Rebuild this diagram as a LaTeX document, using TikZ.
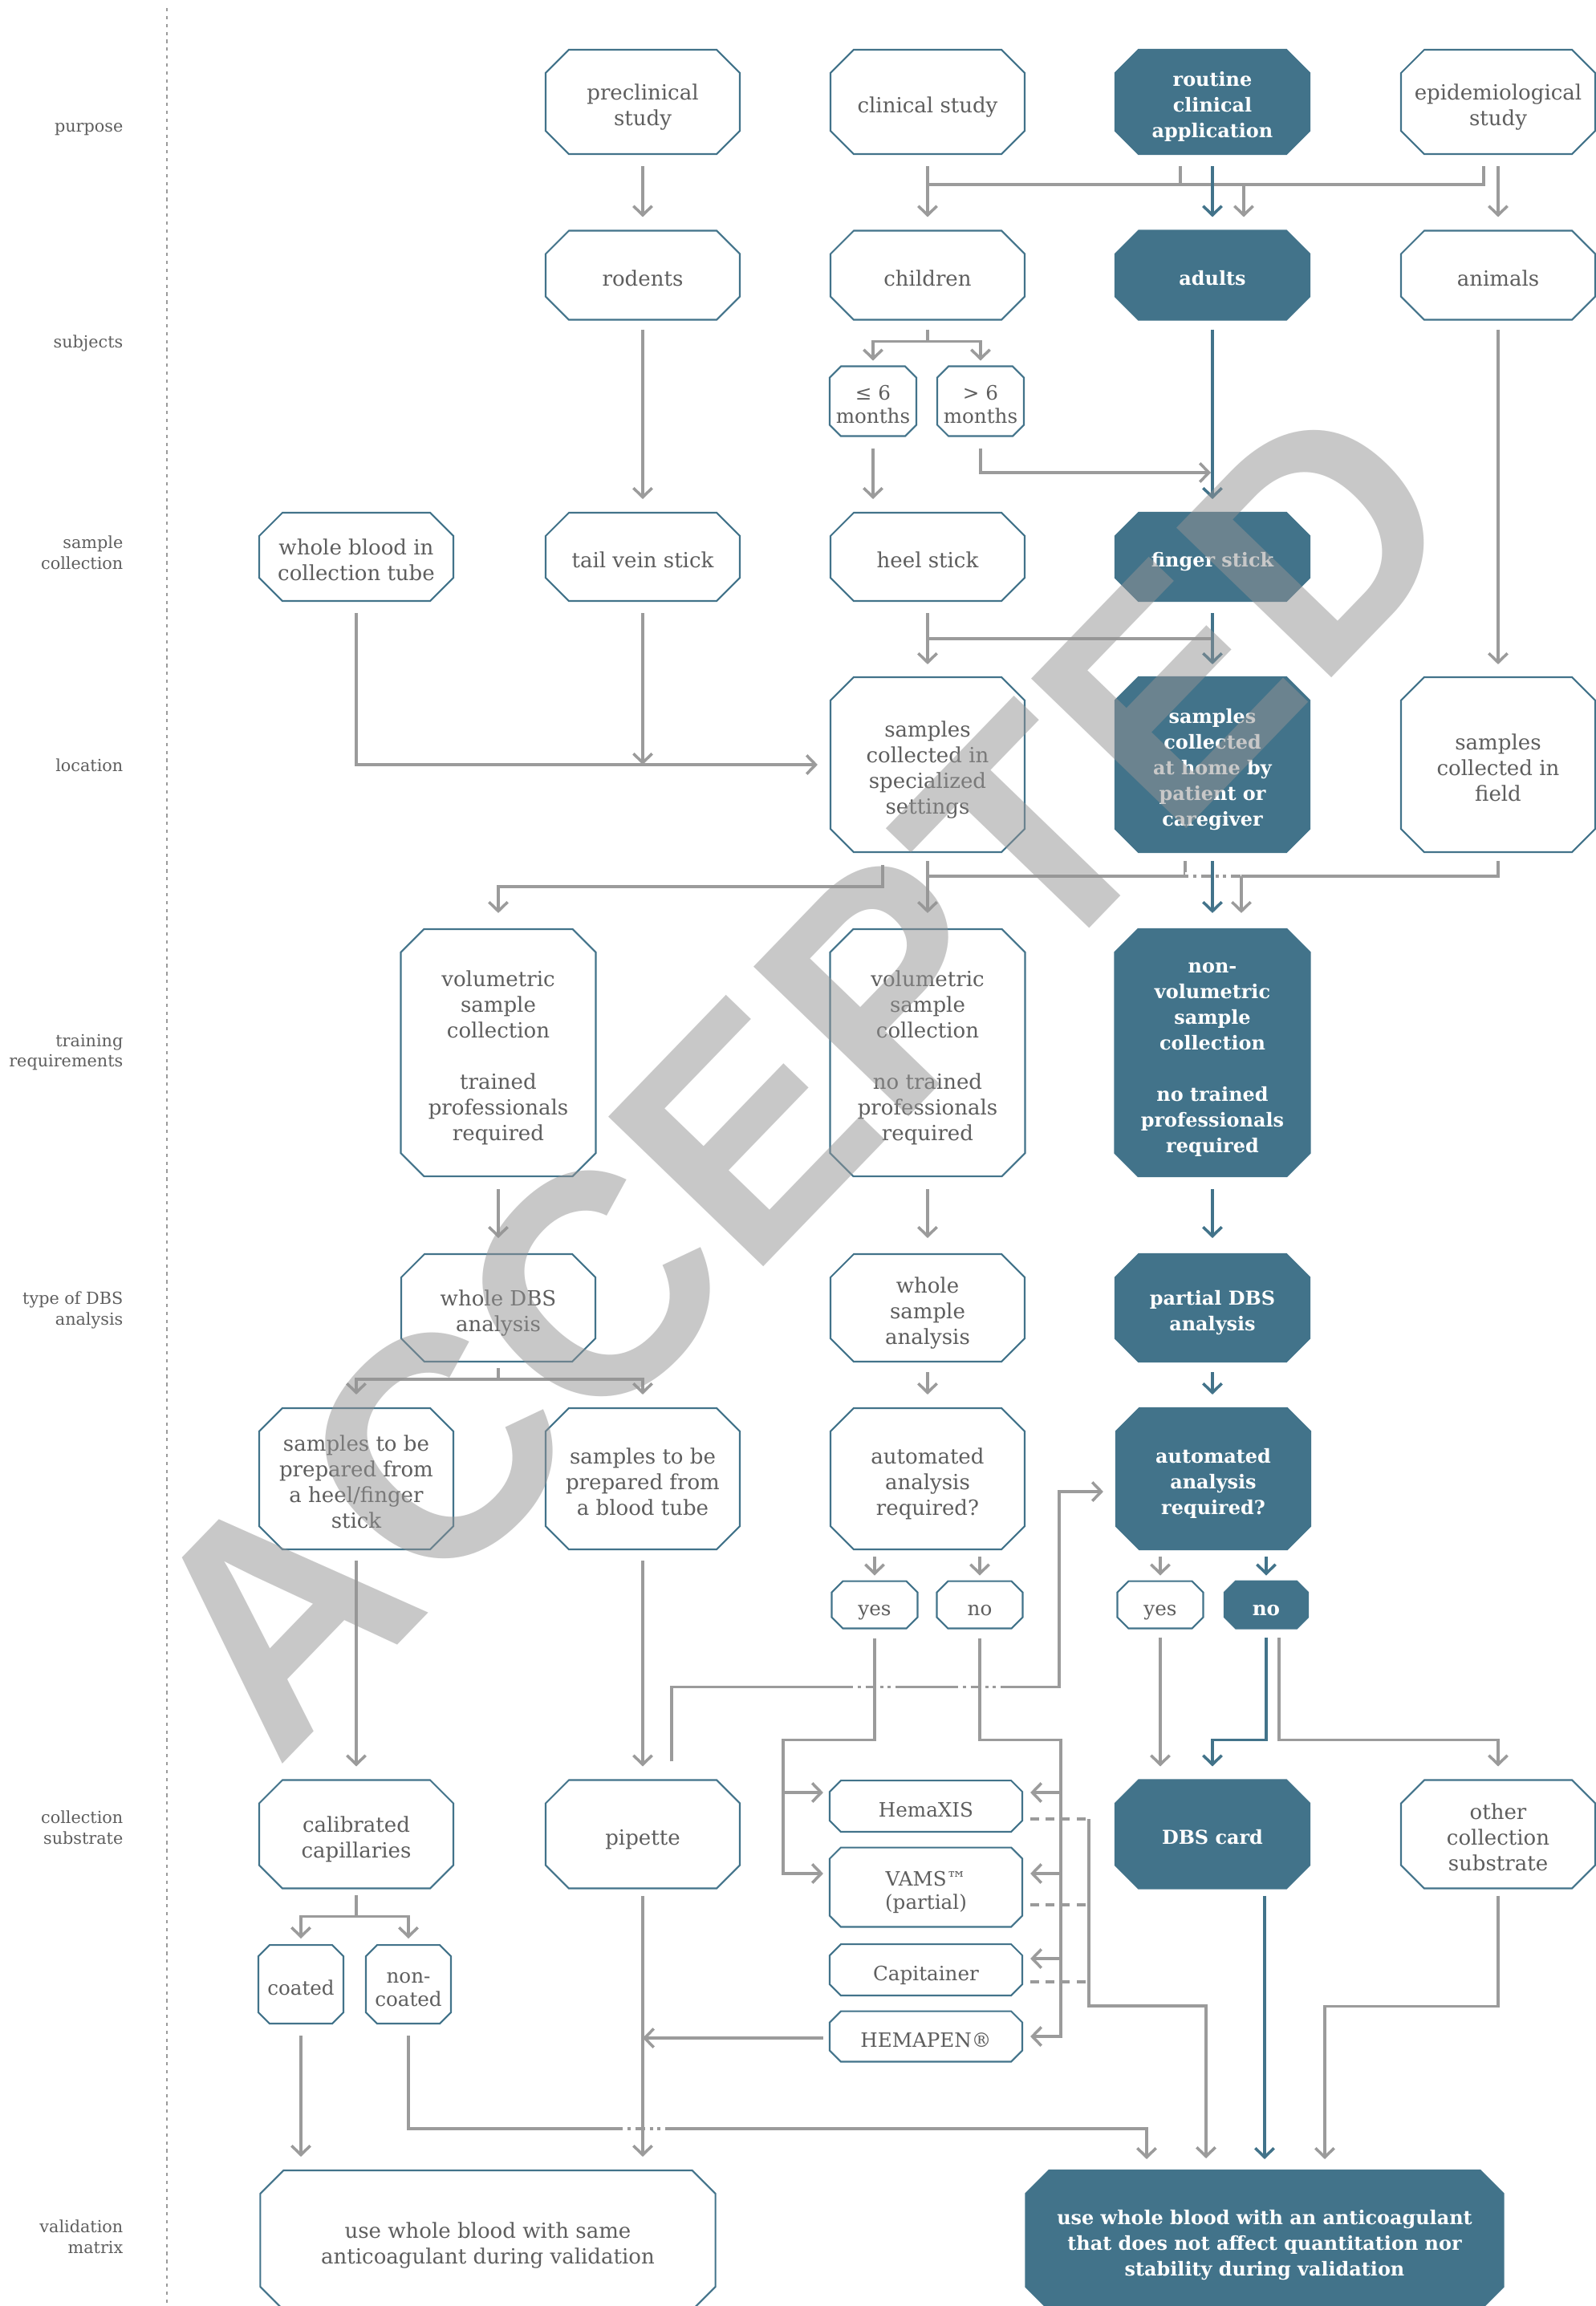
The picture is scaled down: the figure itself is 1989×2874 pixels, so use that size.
\documentclass[tikz,border=0pt]{standalone}
\usepackage{fontspec}
\setmainfont{DejaVu Serif}
\newfontfamily\wmfont{Liberation Sans}
\usetikzlibrary{arrows.meta,calc}

\definecolor{dbsteal}{HTML}{42738A}
\definecolor{lgray}{HTML}{9B9B9B}
\definecolor{txt}{HTML}{5E5E5E}
\definecolor{wmgray}{RGB}{148,148,148}

% octagon inside the node's rectangle, #1 = corner cut, #2 = path options
\newcommand\octo[2]{%
  \path[#2]
    ([xshift=#1,yshift=-0.3pt]path picture bounding box.north west)
    -- ([xshift=-#1,yshift=-0.3pt]path picture bounding box.north east)
    -- ([xshift=-0.3pt,yshift=-#1]path picture bounding box.north east)
    -- ([xshift=-0.3pt,yshift=#1]path picture bounding box.south east)
    -- ([xshift=-#1,yshift=0.3pt]path picture bounding box.south east)
    -- ([xshift=#1,yshift=0.3pt]path picture bounding box.south west)
    -- ([xshift=0.3pt,yshift=#1]path picture bounding box.south west)
    -- ([xshift=0.3pt,yshift=-#1]path picture bounding box.north west)
    -- cycle;}
% fixed line box so that texts sit alike in every box
\newcommand\lines[1]{\rule{0pt}{1.3em}#1\rule[-0.24em]{0pt}{0.24em}}
\newcommand\labstrut{\rule{0pt}{1.08em}}
\newcommand\botstrut{\rule[-0.24em]{0pt}{0.24em}}

\tikzset{
  oct/.style={rectangle, inner sep=0pt, outer sep=0pt, align=center,
    minimum width=2.44cm, text=txt, font=\fontsize{7.4}{9.1}\selectfont,
    path picture={\octo{0.3cm}{fill=white, draw=dbsteal, line width=0.6pt}}},
  toct/.style={oct, text=white, font=\fontsize{6.8}{9.1}\selectfont\bfseries,
    path picture={\octo{0.3cm}{fill=dbsteal, draw=dbsteal, line width=0.6pt}}},
  soct/.style={oct, font=\fontsize{7}{8.3}\selectfont,
    path picture={\octo{0.15cm}{fill=white, draw=dbsteal, line width=0.6pt}}},
  tsoct/.style={oct, text=white, font=\fontsize{7}{8.3}\selectfont\bfseries,
    path picture={\octo{0.15cm}{fill=dbsteal, draw=dbsteal, line width=0.6pt}}},
  lab/.style={anchor=east, align=right, text=txt, inner sep=0pt,
    font=\fontsize{5.9}{7.2}\selectfont,
    execute at begin node=\labstrut, execute at end node=\botstrut},
  sepline/.style={draw=lgray, line width=0.6pt, dash pattern=on 1.2pt off 1.6pt},
  ln/.style={draw=lgray, line width=1pt},
  arr/.style={ln, -{Straight Barb[length=3.2pt,width=6.6pt]}},
  tln/.style={draw=dbsteal, line width=1pt},
  tarr/.style={tln, -{Straight Barb[length=3.2pt,width=6.6pt]}},
  hop/.style={draw=lgray, line width=1pt,
    dash pattern=on 1.1pt off 1.7pt on 1.1pt off 1.7pt on 3.4pt off 1.7pt,
    preaction={draw=white, solid, line width=3pt}},
  dots/.style={draw=lgray, line width=1pt, dash pattern=on 3pt off 2.5pt},
}

\begin{document}
\begin{tikzpicture}[x=0.01cm, y=-0.01cm]
\useasboundingbox (0,0) rectangle (1989,2874);

% row labels
\node[lab] (lpur) at (154,156) {purpose};
\node[lab] (lsub) at (154,425) {subjects};
\node[lab] (lcol) at (154,691) {sample\\collection};
\node[lab] (lloc) at (154,953) {location};
\node[lab] (ltra) at (154,1312) {training\\requirements};
\node[lab] (ltyp) at (154,1633) {type of DBS\\analysis};
\node[lab] (lsst) at (154,2280) {collection\\substrate};
\node[lab] (lval) at (154,2790) {validation\\matrix};
\draw[sepline] (208,10) -- (208,2874);

% purpose
\node[oct, minimum height=1.32cm] (pre) at (801,127) {\lines{preclinical\\study}};
\node[oct, minimum height=1.32cm] (clin) at (1156,127) {\lines{clinical study}};
\node[toct, minimum height=1.32cm] (rout) at (1511,127) {\lines{routine\\clinical\\application}};
\node[oct, minimum height=1.32cm] (epi) at (1867,127) {\lines{epidemiological\\study}};

% subjects
\node[oct, minimum height=1.13cm] (rod) at (801,343) {\lines{rodents}};
\node[oct, minimum height=1.13cm] (chil) at (1156,343) {\lines{children}};
\node[toct, minimum height=1.13cm] (adul) at (1511,343) {\lines{adults}};
\node[oct, minimum height=1.13cm] (anim) at (1867,343) {\lines{animals}};
\node[soct, minimum width=1.1cm, minimum height=0.89cm] (mle) at (1088,500) {\lines{≤ 6\\months}};
\node[soct, minimum width=1.1cm, minimum height=0.89cm] (mgt) at (1222,500) {\lines{> 6\\months}};

% sample collection
\node[oct, minimum height=1.12cm] (wbt) at (444,694) {\lines{whole blood in\\collection tube}};
\node[oct, minimum height=1.12cm] (tail) at (801,694) {\lines{tail vein stick}};
\node[oct, minimum height=1.12cm] (heel) at (1156,694) {\lines{heel stick}};
\node[toct, minimum height=1.12cm] (fing) at (1511,694) {\lines{finger stick}};

% location
\node[oct, minimum height=2.2cm] (spec) at (1156,953) {\lines{samples\\collected in\\specialized\\settings}};
\node[toct, minimum height=2.2cm] (home) at (1511,953) {\lines{samples\\collected\\at home by\\patient or\\caregiver}};
\node[oct, minimum height=2.2cm] (field) at (1867,953) {\lines{samples\\collected in\\field}};

% training
\node[oct, minimum width=2.45cm, minimum height=3.1cm] (volt) at (621,1312)
  {\lines{volumetric\\sample\\collection\\[9.1pt]trained\\professionals\\required}};
\node[oct, minimum width=2.45cm, minimum height=3.1cm] (voln) at (1156,1312)
  {\lines{volumetric\\sample\\collection\\[9.1pt]no trained\\professionals\\required}};
\node[toct, minimum width=2.45cm, minimum height=3.1cm] (nonv) at (1511,1312)
  {\lines{non-\\volumetric\\sample\\collection\\[9.1pt]no trained\\professionals\\required}};

% type of DBS analysis
\node[oct, minimum height=1.36cm] (wdbs) at (621,1630) {\lines{whole DBS\\analysis}};
\node[oct, minimum height=1.36cm] (wsa) at (1156,1630) {\lines{whole\\sample\\analysis}};
\node[toct, minimum height=1.36cm] (pdbs) at (1511,1630) {\lines{partial DBS\\analysis}};

\node[oct, minimum height=1.78cm] (shf) at (444,1843) {\lines{samples to be\\prepared from\\a heel/finger\\stick}};
\node[oct, minimum height=1.78cm] (sbt) at (801,1843) {\lines{samples to be\\prepared from\\a blood tube}};
\node[oct, minimum height=1.78cm] (aac) at (1156,1843) {\lines{automated\\analysis\\required?}};
\node[toct, minimum height=1.78cm] (aad) at (1512,1843) {\lines{automated\\analysis\\required?}};
\node[soct, minimum width=1.09cm, minimum height=0.61cm] (yc) at (1090,2000) {\lines{yes}};
\node[soct, minimum width=1.09cm, minimum height=0.61cm] (nc) at (1221,2000) {\lines{no}};
\node[soct, minimum width=1.09cm, minimum height=0.61cm] (yd) at (1446,2000) {\lines{yes}};
\node[tsoct, minimum width=1.06cm, minimum height=0.61cm] (nd) at (1578,2000) {\lines{no}};

% collection substrate
\node[oct, minimum height=1.37cm] (cal) at (444,2286) {\lines{calibrated\\capillaries}};
\node[oct, minimum height=1.37cm] (pip) at (801,2286) {\lines{pipette}};
\node[toct, minimum height=1.37cm] (dbs) at (1511,2286) {\lines{DBS card}};
\node[oct, minimum height=1.37cm] (oth) at (1867,2286) {\lines{other\\collection\\substrate}};
\node[soct, minimum width=2.42cm, minimum height=0.66cm] (hema) at (1154,2251) {\lines{HemaXIS}};
\node[soct, minimum width=2.42cm, minimum height=1.01cm] (vams) at (1154,2352) {\lines{VAMS™\\(partial)}};
\node[soct, minimum width=2.42cm, minimum height=0.66cm] (capi) at (1154,2455) {\lines{Capitainer}};
\node[soct, minimum width=2.42cm, minimum height=0.65cm] (hpen) at (1154,2538) {\lines{HEMAPEN®}};
\node[soct, minimum width=1.08cm, minimum height=1.0cm] (coat) at (375,2473) {\lines{coated}};
\node[soct, minimum width=1.08cm, minimum height=1.0cm] (ncoat) at (509,2473) {\lines{non-\\coated}};

% validation matrix
\node[oct, minimum width=5.69cm, minimum height=1.76cm] (valL) at (608,2792)
  {\lines{use whole blood with same\\anticoagulant during validation}};
\node[toct, minimum width=5.97cm, minimum height=1.76cm] (valR) at (1576,2792)
  {\lines{use whole blood with an anticoagulant\\that does not affect quantitation nor\\stability during validation}};

% purpose -> subjects
\draw[arr] ($(pre.south)+(0,14)$) -- ($(rod.north)+(0,-16)$);
\draw[ln] ($(clin.south)+(0,37)$) -- ($(epi.south)+(-18,37)$) -- ($(epi.south)+(-18,14)$);
\draw[ln] ($(rout.south)+(-40,14)$) -- ($(rout.south)+(-40,37)$);
\draw[arr] ($(rout.south)+(39,37)$) -- ($(adul.north)+(39,-16)$);
\draw[arr] ($(clin.south)+(0,14)$) -- ($(chil.north)+(0,-16)$);
\draw[arr] ($(epi.south)+(0,14)$) -- ($(anim.north)+(0,-16)$);
\draw[tarr] ($(rout.south)+(0,14)$) -- ($(adul.north)+(0,-16)$);

% subjects -> sample collection
\draw[arr] ($(rod.south)+(0,11)$) -- ($(tail.north)+(0,-16)$);
\draw[ln] ($(chil.south)+(0,11)$) -- ($(chil.south)+(0,26)$);
\draw[arr] ($(chil.south)+(0,26)$) -| ($(mle.north)+(0,-6)$);
\draw[arr] ($(chil.south)+(0,26)$) -| ($(mgt.north)+(0,-6)$);
\draw[arr] ($(mle.south)+(0,14)$) -- ($(mle.south |- heel.north)+(0,-16)$);
\draw[arr] ($(mgt.south)+(0,14)$) |- ($(fing.north)+(-2,-49)$);
\draw[tarr] ($(adul.south)+(0,11)$) -- ($(fing.north)+(0,-16)$);

% sample collection -> location
\draw[arr] ($(wbt.south)+(0,14)$) |- ($(spec.west)+(-15,0)$);
\draw[arr] ($(tail.south)+(0,14)$) -- (tail.south |- spec.west);
\draw[arr] ($(heel.south)+(0,14)$) -- ($(spec.north)+(0,-15)$);
\draw[ln] ($(heel.south)+(0,46)$) -- ($(heel.south -| fing.south)+(0,46)$);
\draw[tarr] ($(fing.south)+(0,14)$) -- ($(home.north)+(0,-15)$);
\draw[arr] ($(anim.south)+(0,11)$) -- ($(field.north)+(0,-15)$);

% location -> training
\draw[arr] ($(spec.south)+(-56,15)$) -- ($(spec.south)+(-56,42)$) -| ($(volt.north)+(0,-19)$);
\draw[arr] ($(spec.south)+(0,10)$) -- ($(voln.north)+(0,-19)$);
\draw[ln] ($(spec.south)+(0,29)$) -- ($(home.south)+(-34,29)$) -- ($(home.south)+(-34,10)$);
\draw[hop] ($(home.south)+(-34,29)$) -- ($(home.south)+(36,29)$);
\draw[ln] ($(home.south)+(36,29)$) -- ($(field.south)+(0,29)$) -- ($(field.south)+(0,10)$);
\draw[arr] ($(home.south)+(36,29)$) -- ($(nonv.north)+(36,-19)$);
\draw[tarr] ($(home.south)+(0,10)$) -- ($(nonv.north)+(0,-19)$);

% training -> type of analysis
\draw[arr] ($(volt.south)+(0,15)$) -- ($(wdbs.north)+(0,-19)$);
\draw[arr] ($(voln.south)+(0,15)$) -- ($(wsa.north)+(0,-19)$);
\draw[tarr] ($(nonv.south)+(0,15)$) -- ($(pdbs.north)+(0,-19)$);
\draw[ln] ($(wdbs.south)+(0,7)$) -- ($(wdbs.south)+(0,21)$);
\draw[arr] ($(wdbs.south)+(0,21)$) -| ($(shf.north)+(0,-16)$);
\draw[arr] ($(wdbs.south)+(0,21)$) -| ($(sbt.north)+(0,-16)$);
\draw[arr] ($(wsa.south)+(0,12)$) -- ($(aac.north)+(0,-16)$);
\draw[tarr] ($(pdbs.south)+(0,12)$) -- ($(aad.north)+(-1,-16)$);
\draw[arr] ($(aac.south -| yc.north)+(0,8)$) -- ($(yc.north)+(0,-6)$);
\draw[arr] ($(aac.south -| nc.north)+(0,8)$) -- ($(nc.north)+(0,-6)$);
\draw[arr] ($(aad.south -| yd.north)+(0,8)$) -- ($(yd.north)+(0,-6)$);
\draw[tarr] ($(aad.south -| nd.north)+(0,8)$) -- ($(nd.north)+(0,-6)$);

% pipette back to automated analysis
\draw[arr] ($(pip.north)+(36,-22)$) -- ($(pip.north)+(36,-115)$)
  -- ($(pip.north)+(519,-115)$) |- ($(aad.west)+(-15,16)$);
\draw[hop] ($(pip.north -| yc.south)+(-31,-115)$) -- ($(pip.north -| yc.south)+(28,-115)$);
\draw[hop] ($(pip.north -| nc.south)+(-31,-115)$) -- ($(pip.north -| nc.south)+(28,-115)$);

% yes / no -> devices
\draw[arr] ($(yc.south)+(0,11)$) -- ($(yc.south)+(0,138)$) -| ($(vams.west)+(-57,-17)$)
  -- ($(vams.west)+(-7,-17)$);
\draw[arr] ($(hema.west)+(-57,-17)$) -- ($(hema.west)+(-7,-17)$);
\draw[arr] ($(nc.south)+(0,11)$) -- ($(nc.south)+(0,138)$) -| ($(hpen.east)+(47,0)$)
  -- ($(hpen.east)+(9,0)$);
\draw[arr] ($(hema.east)+(47,-17)$) -- ($(hema.east)+(9,-17)$);
\draw[arr] ($(vams.east)+(47,-17)$) -- ($(vams.east)+(9,-17)$);
\draw[arr] ($(capi.east)+(47,-14)$) -- ($(capi.east)+(9,-14)$);
\draw[arr] ($(hpen.west)+(-7,2)$) -- ($(hpen.west -| pip.south)+(0,2)$);
\draw[dots] ($(hema.east)+(9,16)$) -- ($(hema.east)+(82,16)$);
\draw[dots] ($(vams.east)+(9,22)$) -- ($(vams.east)+(82,22)$);
\draw[dots] ($(capi.east)+(9,15)$) -- ($(capi.east)+(82,15)$);
\draw[arr] ($(hema.east)+(82,16)$) -- ($(hema.east)+(82,249)$) -| ($(valR.north)+(-73,-14)$);

% D column
\draw[arr] ($(yd.south)+(0,10)$) -- ($(yd.south |- dbs.north)+(0,-16)$);
\draw[arr] ($(nd.south)+(16,10)$) -- ($(nd.south)+(16,138)$) -| ($(oth.north)+(0,-16)$);
\draw[tarr] ($(nd.south)+(0,10)$) -- ($(nd.south)+(0,138)$) -| ($(dbs.north)+(0,-16)$);

% substrates -> validation
\draw[arr] ($(shf.south)+(0,13)$) -- ($(cal.north)+(0,-16)$);
\draw[arr] ($(sbt.south)+(0,13)$) -- ($(pip.north)+(0,-16)$);
\draw[ln] ($(cal.south)+(0,7)$) -- ($(cal.south)+(0,34)$);
\draw[arr] ($(cal.south)+(0,34)$) -| ($(coat.north)+(0,-7)$);
\draw[arr] ($(cal.south)+(0,34)$) -| ($(ncoat.north)+(0,-7)$);
\draw[arr] ($(coat.south)+(0,14)$) -- ($(coat.south |- valL.north)+(0,-16)$);
\draw[arr] ($(ncoat.south)+(0,14)$) |- ($(valR.north)+(-147,-51)$) -- ($(valR.north)+(-147,-13)$);
\draw[hop] ($(valR.north -| pip.south)+(-29,-51)$) -- ($(valR.north -| pip.south)+(28,-51)$);
\draw[arr] ($(pip.south)+(0,8)$) -- ($(pip.south |- valL.north)+(0,-16)$);
\draw[tarr] ($(dbs.south -| valR.north)+(0,8)$) -- ($(valR.north)+(0,-13)$);
\draw[arr] ($(oth.south)+(0,8)$) -- ($(oth.south)+(0,146)$) -| ($(valR.north)+(75,-13)$);

% watermark
\node[rotate=46, text=wmgray, text opacity=0.51, inner sep=0pt,
  font=\wmfont\bfseries\fontsize{111}{111}\selectfont] (wm) at (995,1340) {ACCEPTED};
\end{tikzpicture}
\end{document}
